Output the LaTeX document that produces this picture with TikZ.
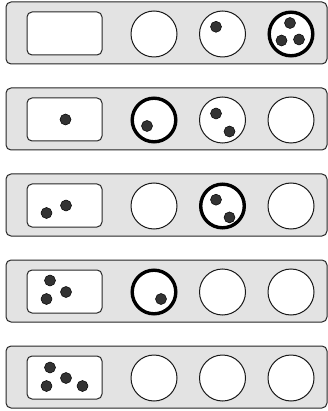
\documentclass[tikz,border=0pt]{standalone}
\usetikzlibrary{calc}
\begin{document}
\tikzset{
  panel/.style={draw=black!85, fill=black!11, rounded corners=5pt, line width=1pt},
  box/.style={rectangle, draw=black!85, fill=white, rounded corners=5pt, line width=1pt, minimum width=75pt, minimum height=43pt, inner sep=0pt},
  cup/.style={circle, draw=black!90, fill=white, minimum size=46pt, inner sep=0pt, line width=1pt},
  hot/.style={draw=black, line width=3.4pt, minimum size=43.6pt},
  ball/.style={circle, fill=black!80, draw=black, line width=0.5pt, minimum size=11pt, inner sep=0pt}
}
\begin{tikzpicture}[x=1pt,y=-1pt]
\useasboundingbox (0,0) rectangle (328,411);
% rows
\foreach \i in {0,...,4}{
  \pgfmathsetmacro{\T}{2+86*\i}
  \node[panel, rectangle, minimum width=321pt, minimum height=62pt, inner sep=0pt] (p\i) at (166.5,\T+31) {};
}
% row 1
\node[box] (b0) at (64.5,33.5) {};
\node[cup] (c01) at (154,34) {};
\node[cup] (c02) at (222.5,34) {};
\node[cup,hot] (c03) at (291,34) {};
\node[ball] at ($(c02)+(-6.5,-7.2)$) {};
\node[ball] at ($(c03)+(-1,-11)$) {};
\node[ball] at ($(c03)+(-9.5,6.5)$) {};
\node[ball] at ($(c03)+(8,5.5)$) {};
% row 2
\node[box] (b1) at (64.5,119.5) {};
\node[cup,hot] (c11) at (154,120) {};
\node[cup] (c12) at (222.5,120) {};
\node[cup] (c13) at (291,120) {};
\node[ball] at ($(b1)+(1,0)$) {};
\node[ball] at ($(c11)+(-7,6)$) {};
\node[ball] at ($(c12)+(-6.5,-6.5)$) {};
\node[ball] at ($(c12)+(7,11.5)$) {};
% row 3
\node[box] (b2) at (64.5,205.5) {};
\node[cup] (c21) at (154,206) {};
\node[cup,hot] (c22) at (222.5,206) {};
\node[cup] (c23) at (291,206) {};
\node[ball] at ($(b2)+(-18,7.5)$) {};
\node[ball] at ($(b2)+(1.5,0)$) {};
\node[ball] at ($(c22)+(-6.5,-6.3)$) {};
\node[ball] at ($(c22)+(7,11.4)$) {};
% row 4
\node[box] (b3) at (64.5,291.5) {};
\node[cup,hot] (c31) at (154,292) {};
\node[cup] (c32) at (222.5,292) {};
\node[cup] (c33) at (291,292) {};
\node[ball] at ($(b3)+(-14.5,-11)$) {};
\node[ball] at ($(b3)+(-18,7.5)$) {};
\node[ball] at ($(b3)+(1.5,0.5)$) {};
\node[ball] at ($(c31)+(7,7)$) {};
% row 5
\node[box] (b4) at (64.5,377.5) {};
\node[cup] (c41) at (154,378) {};
\node[cup] (c42) at (222.5,378) {};
\node[cup] (c43) at (291,378) {};
\node[ball] at ($(b4)+(-14.5,-10)$) {};
\node[ball] at ($(b4)+(-18,8.5)$) {};
\node[ball] at ($(b4)+(1.5,0.5)$) {};
\node[ball] at ($(b4)+(18,8.5)$) {};
\end{tikzpicture}
\end{document}
